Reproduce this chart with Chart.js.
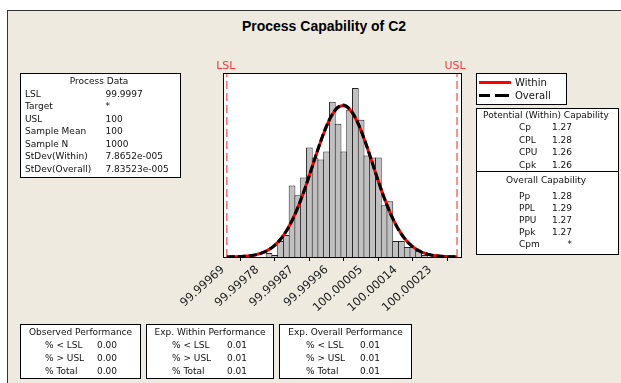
<!DOCTYPE html>
<html>
<head>
<meta charset="utf-8">
<script src="https://cdn.jsdelivr.net/npm/chart.js@4.4.1/dist/chart.umd.min.js"></script>
<style>
  html, body { margin: 0; padding: 0; background: #fff; }
  #page { position: relative; width: 621px; height: 383px; overflow: hidden;
          font-family: "DejaVu Sans", sans-serif; font-size: 9px; color: #111; }
  #frame { position: absolute; left: 7px; top: 10px; width: 700px; height: 420px;
           border: 1px solid #333; background: #EEEAE0; }
  #chart { position: absolute; left: 0; top: 0; }
  #title { position: absolute; left: 0; top: 18px; width: 648px; text-align: center;
           font: bold 14px "Liberation Sans", Arial, sans-serif; color: #000; }
  .box { position: absolute; background: #fff; border: 1px solid #000; box-sizing: border-box; }
  .rule { position: absolute; height: 1px; background: #000; }
  .t { position: absolute; white-space: nowrap; line-height: 12px; height: 12px; }
  .legend { font-size: 10px; }
  .swatch { position: absolute; height: 3px; }
</style>
</head>
<body>
<div id="page">
  <div id="frame"></div>
  <div id="title">Process Capability of C2</div>
  <canvas id="chart" width="621" height="383"></canvas>
</div>
<script>
// spec limits and summary stats
const LSL = 99.9997
const USL = 100.0003
const sampleN = 1000
const processMean = 100.0000025
const sdWithin = 7.8652e-5
const sdOverall = 7.83523e-5

// histogram bins (midpoints) and counts
const binWidth = 0.000015
const binMids = [
  99.99981, 99.999825, 99.99984, 99.999855, 99.99987, 99.999885, 99.9999,
  99.999915, 99.99993, 99.999945, 99.99996, 99.999975, 99.99999, 100.000005,
  100.00002, 100.000035, 100.00005, 100.000065, 100.00008, 100.000095,
  100.00011, 100.000125, 100.00014, 100.000155, 100.00017, 100.000185,
  100.0002, 100.000215
]
const binCounts = [
  2, 1, 8, 11, 36, 31, 40, 55, 50, 49, 53, 78, 67, 53,
  74, 85, 69, 51, 50, 50, 26, 28, 8, 8, 5, 5, 3, 1
]

// x axis
const xMin = 99.99969
const xMax = 100.000313
const tickValues = [99.99969, 99.99978, 99.99987, 99.99996, 100.00005, 100.00014, 100.00023]
const yMax = 92.5

// text tables
const processData = [
  ["LSL", "99.9997"], ["Target", "*"], ["USL", "100"], ["Sample Mean", "100"],
  ["Sample N", "1000"], ["StDev(Within)", "7.8652e-005"], ["StDev(Overall)", "7.83523e-005"]
]
const withinCapability = [["Cp", "1.27"], ["CPL", "1.28"], ["CPU", "1.26"], ["Cpk", "1.26"]]
const overallCapability = [["Pp", "1.28"], ["PPL", "1.29"], ["PPU", "1.27"], ["Ppk", "1.27"], ["Cpm", "*"]]
const observedPerf = [["% < LSL", "0.00"], ["% > USL", "0.00"], ["% Total", "0.00"]]
const expWithinPerf = [["% < LSL", "0.01"], ["% > USL", "0.01"], ["% Total", "0.01"]]
const expOverallPerf = [["% < LSL", "0.01"], ["% > USL", "0.01"], ["% Total", "0.01"]]

const page = document.getElementById("page")

function box(left, top, width, height) {
  const el = document.createElement("div")
  el.className = "box"
  Object.assign(el.style, { left: left + "px", top: top + "px", width: width + "px", height: height + "px" })
  page.appendChild(el)
  return el
}

// y is the vertical centre of the line; align: left | right | center
function text(str, x, y, align, cls) {
  const el = document.createElement("div")
  el.className = "t" + (cls ? " " + cls : "")
  el.textContent = str
  el.style.top = (y - 6) + "px"
  if (align === "right") {
    el.style.right = (621 - x) + "px"
  } else if (align === "center") {
    el.style.left = (x - 100) + "px"
    el.style.width = "200px"
    el.style.textAlign = "center"
  } else {
    el.style.left = x + "px"
  }
  page.appendChild(el)
}

// Process Data
box(20, 73, 161, 105)
text("Process Data", 99, 81, "center")
processData.forEach(([k, v], i) => {
  text(k, 25, 94 + i * 12.45)
  text(v, 105.5, 94 + i * 12.45)
})

// legend
box(476, 73, 91, 32)
const redLine = document.createElement("div")
redLine.className = "swatch"
Object.assign(redLine.style, { left: "479px", top: "81px", width: "32px", background: "#f00" })
page.appendChild(redLine)
;[[479, 11], [495, 14]].forEach(([l, w]) => {
  const d = document.createElement("div")
  d.className = "swatch"
  Object.assign(d.style, { left: l + "px", top: "94px", width: w + "px", background: "#000" })
  page.appendChild(d)
})
text("Within", 515, 82.5, "left", "legend")
text("Overall", 515, 95.5, "left", "legend")

// capability
box(476, 108, 143, 147)
const rule = document.createElement("div")
rule.className = "rule"
Object.assign(rule.style, { left: "476px", top: "171px", width: "143px" })
page.appendChild(rule)
text("Potential (Within) Capability", 546, 115, "center")
withinCapability.forEach(([k, v], i) => {
  text(k, 519, 127 + i * 12.5)
  text(v, 572, 127 + i * 12.5, "right")
})
text("Overall Capability", 546, 179.5, "center")
overallCapability.forEach(([k, v], i) => {
  text(k, 519, 196 + i * 12)
  text(v, 572, 196 + i * 12, "right")
})

// performance boxes along the bottom
;[
  ["Observed Performance", observedPerf, 20, 121, 25, 77],
  ["Exp. Within Performance", expWithinPerf, 146, 128, 26, 81],
  ["Exp. Overall Performance", expOverallPerf, 279, 133, 27, 81]
].forEach(([title, rows, left, width, kx, vx]) => {
  box(left, 324, width, 55)
  text(title, left + width / 2, 332, "center")
  rows.forEach(([k, v], i) => {
    text(k, left + kx, 345 + i * 13)
    text(v, left + vx, 345 + i * 13)
  })
})

// fitted normal curves, scaled to histogram counts
function normalCurve(sd) {
  const pts = []
  const steps = 150
  for (let i = 0; i <= steps; i++) {
    const x = LSL + (USL - LSL) * i / steps
    const z = (x - processMean) / sd
    pts.push({ x, y: sampleN * binWidth * Math.exp(-0.5 * z * z) / (sd * Math.sqrt(2 * Math.PI)) })
  }
  return pts
}

const plotFrame = {
  id: "plotFrame",
  beforeDatasetsDraw(chart) {
    const { ctx, chartArea: a } = chart
    ctx.save()
    ctx.fillStyle = "#fff"
    ctx.fillRect(a.left, a.top, a.right - a.left, a.bottom - a.top)
    ctx.restore()
  },
  afterDraw(chart) {
    const { ctx, chartArea: a, scales } = chart
    ctx.save()
    ctx.strokeStyle = "#000"
    ctx.lineWidth = 1
    ctx.strokeRect(a.left + 0.5, a.top + 0.5, a.right - a.left - 1, a.bottom - a.top)
    ctx.fillStyle = "#EE3B3B"
    ctx.font = "11px 'DejaVu Sans'"
    ctx.textAlign = "center"
    ctx.textBaseline = "middle"
    ctx.fillText("LSL", scales.x.getPixelForValue(LSL) - 1, a.top - 7)
    ctx.fillText("USL", scales.x.getPixelForValue(USL) - 2, a.top - 7)
    ctx.restore()
  }
}

new Chart(document.getElementById("chart"), {
  type: "bar",
  data: {
    datasets: [
      {
        type: "line",
        label: "Overall",
        data: normalCurve(sdOverall),
        borderColor: "#000",
        borderWidth: 3,
        borderDash: [8, 3],
        pointRadius: 0,
        tension: 0,
        order: 1
      },
      {
        type: "line",
        label: "Within",
        data: normalCurve(sdWithin),
        borderColor: "#f00",
        borderWidth: 3,
        pointRadius: 0,
        tension: 0,
        order: 2
      },
      {
        type: "line",
        label: "LSL",
        data: [{ x: LSL, y: 0 }, { x: LSL, y: yMax }],
        borderColor: "#F25A5A",
        borderWidth: 1.3,
        borderDash: [8, 4],
        pointRadius: 0,
        order: 3
      },
      {
        type: "line",
        label: "USL",
        data: [{ x: USL, y: 0 }, { x: USL, y: yMax }],
        borderColor: "#F25A5A",
        borderWidth: 1.3,
        borderDash: [8, 4],
        pointRadius: 0,
        order: 3
      },
      {
        label: "C2",
        data: binMids.map((x, i) => ({ x, y: binCounts[i] })),
        backgroundColor: "#C0C0C0",
        borderColor: "#262626",
        borderWidth: 1,
        barPercentage: 1.17,
        categoryPercentage: 1,
        order: 4
      }
    ]
  },
  options: {
    responsive: false,
    animation: false,
    layout: { padding: { left: 223, top: 73, right: 159, bottom: 66 } },
    plugins: {
      legend: { display: false },
      title: { display: false },
      tooltip: { enabled: false }
    },
    scales: {
      x: {
        type: "linear",
        min: xMin,
        max: xMax,
        offset: false,
        border: { display: false },
        grid: { drawOnChartArea: false, drawTicks: true, tickLength: 4, color: "#000" },
        afterBuildTicks: scale => { scale.ticks = tickValues.map(value => ({ value })) },
        afterFit: scale => { scale.height = 60 },
        ticks: {
          autoSkip: false,
          minRotation: 42,
          maxRotation: 42,
          padding: 2,
          color: "#1a1a1a",
          font: { family: "DejaVu Sans", size: 11.5 },
          callback: value => Number(value).toFixed(5)
        }
      },
      y: {
        display: false,
        min: 0,
        max: yMax
      }
    }
  },
  plugins: [plotFrame]
})
</script>
</body>
</html>
